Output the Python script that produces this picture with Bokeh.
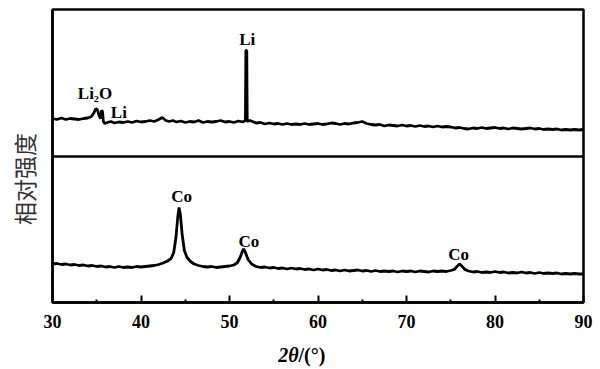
from bokeh.plotting import figure
from bokeh.models import Range1d, Span, FixedTicker, ColumnDataSource
from bokeh.layouts import column
from bokeh.core.properties import value
from bokeh.embed import file_html
from bokeh.resources import INLINE

# ---- data (y = relative intensity, stacked) ----
top_x = [30, 30.5, 31, 31.5, 32, 32.5, 33, 33.5, 34, 34.4, 34.7, 34.9, 35.1, 35.3, 35.45, 35.55, 35.65,
         35.75, 35.9, 36.2, 36.6, 37, 37.5, 38, 38.5, 39, 39.5, 40, 40.5, 41, 41.5, 42, 42.4, 42.8, 43.2,
         43.6, 44, 44.5, 45, 45.5, 46, 46.5, 47, 47.5, 48, 48.5, 49, 49.5, 50, 50.5, 51, 51.5, 51.8,
         51.85, 51.95, 52.0, 52.3, 52.6, 53, 53.5, 54, 54.5, 55, 55.5, 56, 56.5, 57, 57.5, 58, 58.5, 59,
         59.5, 60, 60.5, 61, 61.5, 62, 62.5, 63, 63.5, 64, 64.5, 65, 65.5, 66, 66.5, 67, 67.5, 68, 68.5,
         69, 69.5, 70, 70.5, 71, 71.5, 72, 72.5, 73, 73.5, 74, 74.5, 75, 75.5, 76, 76.5, 77, 77.5, 78,
         78.5, 79, 79.5, 80, 80.5, 81, 81.5, 82, 82.5, 83, 83.5, 84, 84.5, 85, 85.5, 86, 86.5, 87, 87.5,
         88, 88.5, 89, 89.5, 90]
top_y = [184, 183, 184.5, 183, 184, 183.5, 183, 184, 184.5, 186, 190, 194, 192, 186, 184, 192, 191,
         181, 179, 180, 181, 179.5, 180.5, 180, 181, 180, 181.5, 180.5, 181, 182, 181, 183, 185, 182, 181,
         182, 180.5, 181.5, 180, 181, 180.5, 182, 180, 181, 180.5, 181, 182, 180.5, 181, 180, 181.5, 180.5, 182,
         252, 252, 181, 182, 181, 179.5, 180, 178.5, 179.5, 178.5, 179, 178, 179, 178, 178.5, 178, 179, 178,
         178.5, 179, 178, 178.5, 179.5, 179, 178, 179, 178.5, 179.5, 180, 181, 179, 178, 177.5, 178, 176.5, 177.5, 177,
         176.5, 177.5, 176.5, 177, 176, 177, 176, 176.5, 175.5, 176.5, 175.5, 176, 175.5, 174.5, 175, 174, 173.5, 174.5, 174,
         175, 174, 174.5, 175, 174, 174.5, 173.5, 174.5, 174, 173.5, 174, 174.5, 173.5, 174, 173, 173.5, 173, 173.5, 172.5,
         173, 172.5, 173, 172.5, 173]

bot_x = [30, 30.5, 31, 31.5, 32, 32.5, 33, 33.5, 34, 34.5, 35, 35.5, 36, 36.5, 37, 37.5, 38, 38.5, 39,
         39.5, 40, 40.5, 41, 41.5, 42, 42.5, 43, 43.4, 43.7, 43.95, 44.15, 44.3, 44.45, 44.65, 44.9, 45.2,
         45.6, 46, 46.5, 47, 47.5, 48, 48.5, 49, 49.5, 50, 50.5, 50.9, 51.2, 51.45, 51.6, 51.8, 52.1, 52.5,
         53, 53.5, 54, 54.5, 55, 55.5, 56, 56.5, 57, 57.5, 58, 58.5, 59, 59.5, 60, 60.5, 61, 61.5, 62, 62.5,
         63, 63.5, 64, 64.5, 65, 65.5, 66, 66.5, 67, 67.5, 68, 68.5, 69, 69.5, 70, 70.5, 71, 71.5, 72, 72.5,
         73, 73.5, 74, 74.5, 75, 75.4, 75.7, 76.0, 76.3, 76.6, 77, 77.5, 78, 78.5, 79, 79.5, 80, 80.5, 81,
         81.5, 82, 82.5, 83, 83.5, 84, 84.5, 85, 85.5, 86, 86.5, 87, 87.5, 88, 88.5, 89, 89.5, 90]
bot_y = [38.5, 39, 38, 38.5, 37.5, 38, 37, 37.5, 36.5, 37, 36, 36.5, 35.5, 36, 35, 36, 35, 35.5, 35,
         36, 35.5, 36, 36.5, 37, 38, 39.5, 41.5, 44, 50, 65, 85, 95, 88, 68, 52, 45,
         41, 38.5, 37, 36, 35.5, 36, 35, 35.5, 36, 36.5, 37.5, 40, 45, 51, 53.5, 50, 43, 38.5,
         36, 35, 35.5, 34.5, 35, 34, 34.5, 33.5, 34.5, 33.5, 34, 33, 33.5, 32.5, 33.5, 32.5, 33, 32, 32.5, 31.5,
         32.5, 31.5, 32, 32.5, 31.5, 32, 31, 32, 31, 31.5, 31, 31.5, 30.5, 31.5, 31, 31.5, 30.5, 31.5, 31, 30.5,
         31.5, 31, 31.5, 31, 32, 33, 36, 38.5, 36, 33, 31.5, 30.5, 31, 30, 30.5, 30, 31, 30, 30.5,
         29.5, 30, 29.5, 30.5, 29.5, 30, 29, 30, 29, 29.5, 29, 29.5, 28.5, 29, 28.5, 29, 28.5, 28.5]

divider_level = 146

peak_text = ["Li\u2082O", "Li", "Li", "Co", "Co", "Co"]
peak_x = [34.8, 37.5, 52.0, 44.6, 52.2, 75.9]
peak_y = [209, 190, 263, 106.5, 61.5, 48]

major_ticks = [30, 40, 50, 60, 70, 80, 90]
minor_ticks = [35, 45, 55, 65, 75, 85]

title_parts = ["2\u03b8", "/(\u00b0)"]
title_x = [57.8, 57.8]

SERIF = "Liberation Serif"

xr = Range1d(30, 90)

p = figure(width=600, height=340, x_range=xr, y_range=Range1d(0, 293),
           output_backend="svg", toolbar_location=None,
           min_border_left=52, min_border_right=17, min_border_top=9, min_border_bottom=38)

p.xgrid.visible = False
p.ygrid.visible = False
p.outline_line_color = "black"
p.outline_line_width = 2.5
p.background_fill_color = "white"
p.border_fill_color = "white"

xa = p.xaxis[0]
xa.ticker = FixedTicker(ticks=major_ticks, minor_ticks=minor_ticks)
xa.major_tick_in = 7
xa.major_tick_out = 0
xa.minor_tick_in = 3
xa.minor_tick_out = 0
xa.major_tick_line_width = 2
xa.minor_tick_line_width = 2
xa.axis_line_width = 2.5
xa.major_label_text_font = SERIF
xa.major_label_text_font_style = "bold"
xa.major_label_text_font_size = "18px"
xa.major_label_text_color = "black"
xa.major_label_standoff = 12

ya = p.yaxis[0]
ya.ticker = FixedTicker(ticks=[], minor_ticks=[])
ya.major_tick_out = 0
ya.major_tick_in = 0
ya.axis_line_width = 2.5
ya.axis_label = "相对强度\u3000\u3000"
ya.axis_label_text_font = "Noto Sans CJK SC"
ya.axis_label_text_font_style = "normal"
ya.axis_label_text_font_size = "23px"
ya.axis_label_text_color = "#333333"
ya.axis_label_standoff = 12

p.line(top_x, top_y, line_color="black", line_width=2.8)
p.line(bot_x, bot_y, line_color="black", line_width=2.8)

p.add_layout(Span(location=divider_level, dimension="width", line_color="black", line_width=2.5))

src = ColumnDataSource(dict(x=peak_x, y=peak_y, t=peak_text))
p.text(x="x", y="y", text="t", source=src, text_font=value(SERIF), text_font_style="bold",
       text_font_size="17px", text_align="center", text_baseline="middle", text_color="black")

# x axis title strip: italic 2θ + upright /(°)
p2 = figure(width=600, height=29, x_range=xr, y_range=Range1d(0, 1),
            output_backend="svg", toolbar_location=None,
            min_border_left=52, min_border_right=17, min_border_top=0, min_border_bottom=0)
p2.xaxis.visible = False
p2.yaxis.visible = False
p2.xgrid.visible = False
p2.ygrid.visible = False
p2.outline_line_color = None
p2.text(x=[title_x[0]], y=[0.5], text=[title_parts[0]], text_font=value(SERIF),
        text_font_style="bold italic", text_font_size="20px", text_align="right",
        text_baseline="middle", text_color="black")
p2.text(x=[title_x[1]], y=[0.5], text=[title_parts[1]], text_font=value(SERIF),
        text_font_style="bold", text_font_size="20px", text_align="left",
        text_baseline="middle", text_color="black")

layout = column(p, p2, spacing=0)
open("out.html", "w").write(file_html(layout, INLINE))
